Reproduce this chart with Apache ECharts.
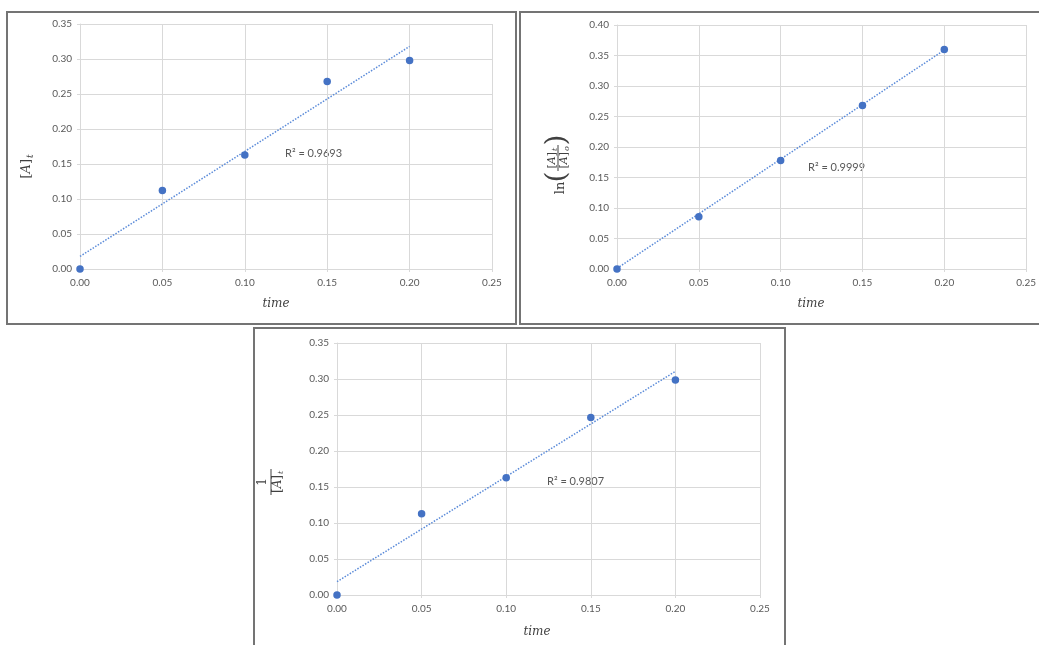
<!DOCTYPE html>
<html>
<head>
<meta charset="utf-8">
<script src="https://cdn.jsdelivr.net/npm/echarts@6/dist/echarts.min.js"></script>
<style>
  body { margin: 0; padding: 0; background: #fff; }
  #chart { width: 1039px; height: 645px; }
</style>
</head>
<body>
<div id="chart"></div>
<script>
// time values shared by all three plots
var times = [0, 0.05, 0.10, 0.15, 0.20];

// [A]t vs time
var concA = [0, 0.112, 0.163, 0.268, 0.298];
var trendA = [[0, 0.018], [0.20, 0.318]];
var r2A = "R² = 0.9693";

// ln([A]t/[A]o) vs time
var lnA = [0, 0.0855, 0.178, 0.268, 0.360];
var trendLn = [[0, 0.001], [0.20, 0.359]];
var r2Ln = "R² = 0.9999";

// 1/[A]t vs time
var invA = [0, 0.1127, 0.163, 0.2466, 0.2986];
var trendInv = [[0, 0.0185], [0.20, 0.3106]];
var r2Inv = "R² = 0.9807";

var yMaxes = [0.35, 0.40, 0.35];

var blue = "#4472C4";
var gridColor = "#d9d9d9";
var labelColor = "#595959";

function pairs(ys) {
  return times.map(function (t, i) { return [t, ys[i]]; });
}

function xAxisFor(idx) {
  return {
    type: "value", gridIndex: idx, min: 0, max: 0.25, interval: 0.05,
    axisLine: { show: true, lineStyle: { color: gridColor } },
    axisTick: { show: true, length: 3, lineStyle: { color: gridColor } },
    splitLine: { show: true, lineStyle: { color: gridColor } },
    axisLabel: { color: labelColor, fontFamily: "Lato", fontSize: 10, margin: 9,
      formatter: function (v) { return v.toFixed(2); } }
  };
}

function yAxisFor(idx) {
  return {
    type: "value", gridIndex: idx, min: 0, max: yMaxes[idx], interval: 0.05,
    axisLine: { show: true, lineStyle: { color: gridColor } },
    axisTick: { show: true, length: 3, lineStyle: { color: gridColor } },
    splitLine: { show: true, lineStyle: { color: gridColor } },
    axisLabel: { color: labelColor, fontFamily: "Lato", fontSize: 10, margin: 8,
      formatter: function (v) { return v.toFixed(2); } }
  };
}

function pointSeries(idx, ys) {
  return {
    type: "scatter", xAxisIndex: idx, yAxisIndex: idx,
    data: pairs(ys), symbolSize: 7.5, itemStyle: { color: blue, opacity: 1 }, z: 3
  };
}

function trendSeries(idx, seg) {
  return {
    type: "line", xAxisIndex: idx, yAxisIndex: idx, data: seg,
    symbol: "none", silent: true, z: 2,
    lineStyle: { color: "#5b8bd9", width: 1.5, type: [1.5, 1.5] }
  };
}

var serif = "'DejaVu Serif', serif";

function txt(x, y, s, font, extra) {
  var style = { text: s, x: x, y: y, font: font, fill: "#404040",
    textAlign: "center", textVerticalAlign: "middle" };
  for (var k in extra) style[k] = extra[k];
  return { type: "text", style: style };
}

// "[A]" with an italic A, right edge at x
function bracketA(x, y, size) {
  return {
    type: "text",
    style: {
      text: "{n|[}{i|A}{n|]}", x: x, y: y, fill: "#404040",
      textAlign: "right", textVerticalAlign: "middle",
      rich: {
        n: { fontFamily: serif, fontSize: size, fill: "#404040" },
        i: { fontFamily: serif, fontSize: size, fontStyle: "italic", fill: "#404040" }
      }
    }
  };
}

var graphics = [
  // panel frames
  { type: "rect", shape: { x: 7, y: 12, width: 509, height: 312 },
    style: { fill: null, stroke: "#747474", lineWidth: 2 }, z: 10 },
  { type: "rect", shape: { x: 520, y: 12, width: 530, height: 312 },
    style: { fill: null, stroke: "#747474", lineWidth: 2 }, z: 10 },
  { type: "rect", shape: { x: 254, y: 328, width: 531, height: 330 },
    style: { fill: null, stroke: "#747474", lineWidth: 2 }, z: 10 },

  // R² labels
  txt(285, 153, r2A, "11px Lato", { fill: labelColor, textAlign: "left" }),
  txt(808, 167, r2Ln, "11px Lato", { fill: labelColor, textAlign: "left" }),
  txt(547, 481, r2Inv, "11px Lato", { fill: labelColor, textAlign: "left" }),

  // x axis titles
  txt(276, 304, "time", "italic 12px " + serif),
  txt(811, 304, "time", "italic 12px " + serif),
  txt(537, 632, "time", "italic 12px " + serif),

  // y title panel 1: [A]t
  { type: "group", x: 27, y: 162, rotation: Math.PI / 2, children: [
    bracketA(3, 0, 13),
    txt(4, 4, "t", "italic 9px " + serif, { textAlign: "left" })
  ] },

  // y title panel 2: ln([A]t/[A]o)
  { type: "group", x: 558, y: 162, rotation: Math.PI / 2, children: [
    txt(-26, 3, "ln", "13px " + serif),
    txt(-15, 0, "(", "28px " + serif),
    bracketA(10, -6, 11),
    txt(11, -3, "t", "italic 8px " + serif, { textAlign: "left" }),
    { type: "line", shape: { x1: -9, y1: 0, x2: 17, y2: 0 },
      style: { stroke: "#404040", lineWidth: 1 } },
    bracketA(10, 6, 11),
    txt(11, 9, "o", "italic 8px " + serif, { textAlign: "left" }),
    txt(22, 0, ")", "28px " + serif)
  ] },

  // y title panel 3: 1/[A]t
  { type: "group", x: 271, y: 482, rotation: Math.PI / 2, children: [
    txt(0, -8, "1", "12px " + serif),
    { type: "line", shape: { x1: -13, y1: 0, x2: 13, y2: 0 },
      style: { stroke: "#404040", lineWidth: 1 } },
    bracketA(7, 7, 12),
    txt(8, 10, "t", "italic 8px " + serif, { textAlign: "left" })
  ] }
];

var chart = echarts.init(document.getElementById("chart"));
chart.setOption({
  backgroundColor: "#fff",
  animation: false,
  grid: [
    { left: 80, top: 24, width: 412, height: 245 },
    { left: 617, top: 25, width: 410, height: 244 },
    { left: 337, top: 343, width: 423, height: 252 }
  ],
  xAxis: [xAxisFor(0), xAxisFor(1), xAxisFor(2)],
  yAxis: [yAxisFor(0), yAxisFor(1), yAxisFor(2)],
  series: [
    trendSeries(0, trendA), pointSeries(0, concA),
    trendSeries(1, trendLn), pointSeries(1, lnA),
    trendSeries(2, trendInv), pointSeries(2, invA)
  ],
  graphic: graphics
});
</script>
</body>
</html>
